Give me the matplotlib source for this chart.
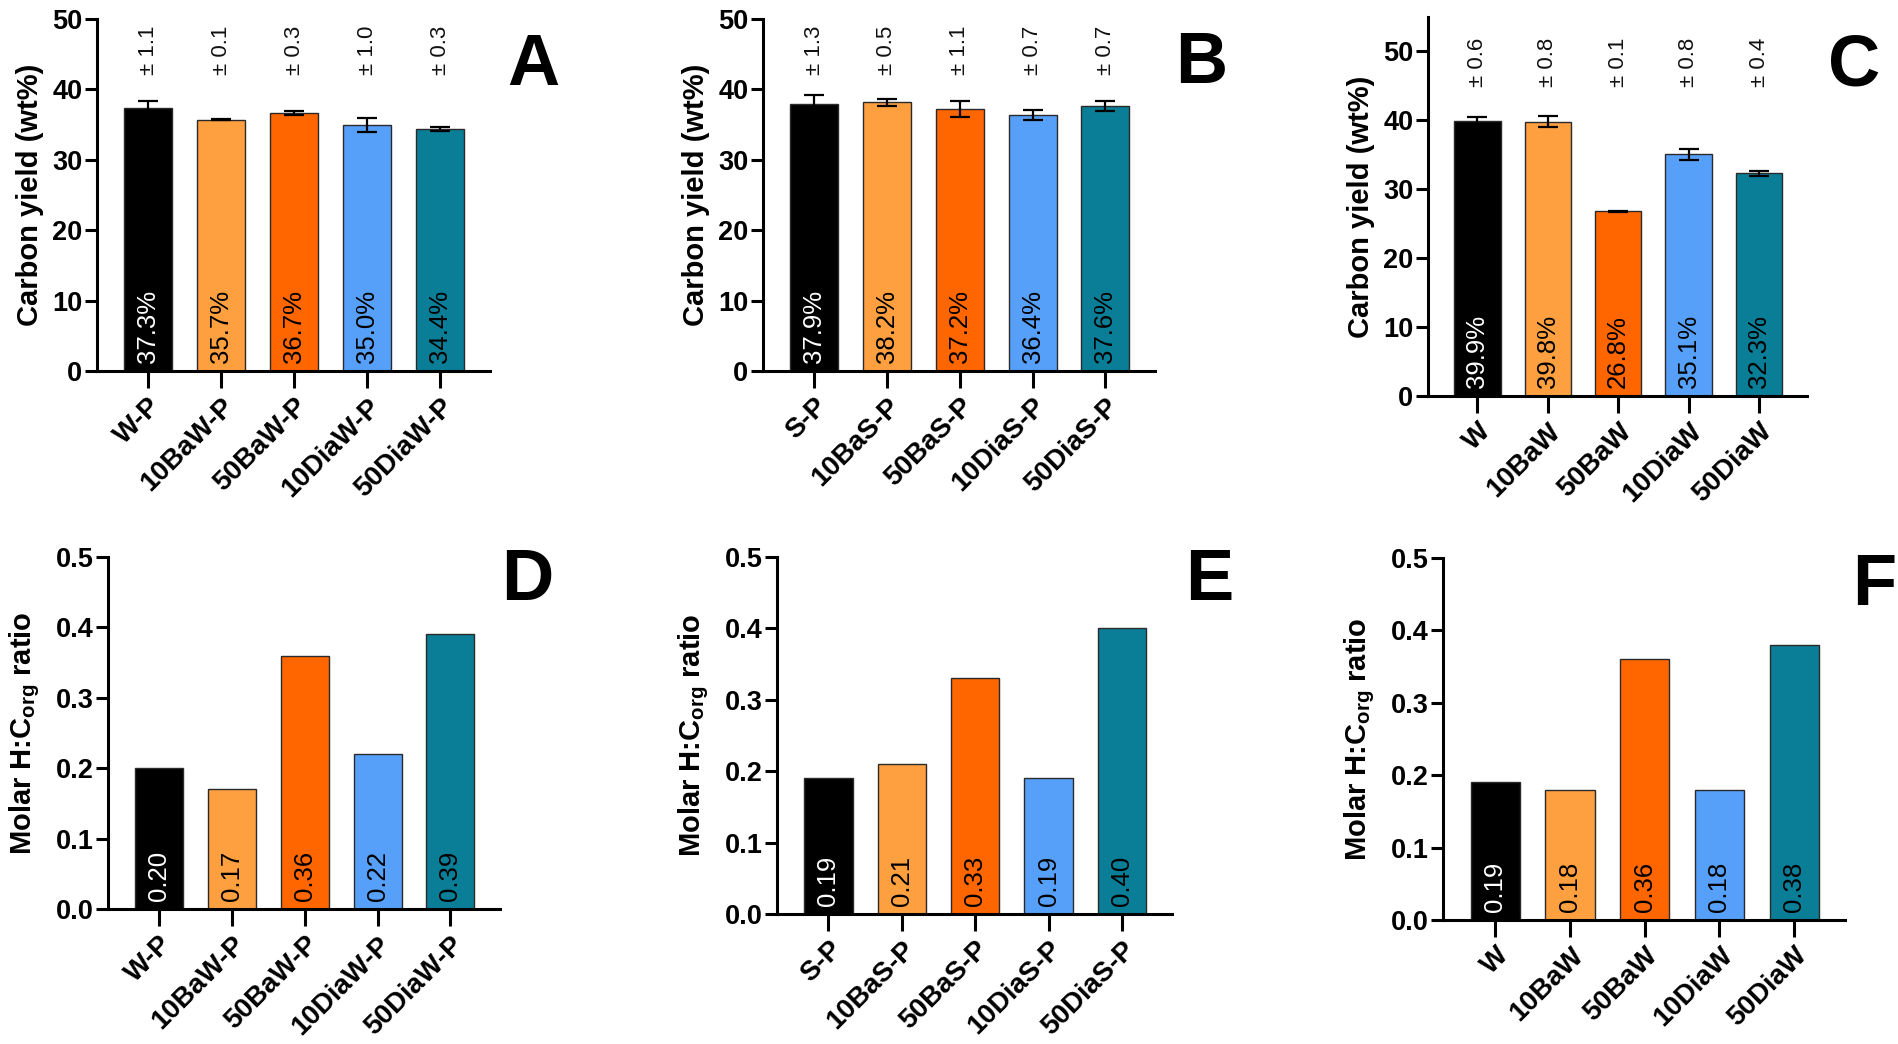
import matplotlib
matplotlib.use('Agg')
import matplotlib.pyplot as plt
import numpy as np
from matplotlib.ticker import FormatStrFormatter

plt.rcParams['font.family'] = ['Liberation Sans', 'DejaVu Sans']
plt.rcParams['mathtext.fontset'] = 'custom'
plt.rcParams['mathtext.rm'] = 'Liberation Sans'
plt.rcParams['mathtext.bf'] = 'Liberation Sans:bold'
plt.rcParams['mathtext.it'] = 'Liberation Sans:italic'

# ---------------- data ----------------
cats_A = ['W-P', '10BaW-P', '50BaW-P', '10DiaW-P', '50DiaW-P']
cats_B = ['S-P', '10BaS-P', '50BaS-P', '10DiaS-P', '50DiaS-P']
cats_C = ['W', '10BaW', '50BaW', '10DiaW', '50DiaW']

yield_A = [37.3, 35.7, 36.7, 35.0, 34.4]
err_A = [1.1, 0.1, 0.3, 1.0, 0.3]
yield_B = [37.9, 38.2, 37.2, 36.4, 37.6]
err_B = [1.3, 0.5, 1.1, 0.7, 0.7]
yield_C = [39.9, 39.8, 26.8, 35.1, 32.3]
err_C = [0.6, 0.8, 0.1, 0.8, 0.4]

hc_D = [0.20, 0.17, 0.36, 0.22, 0.39]
hc_E = [0.19, 0.21, 0.33, 0.19, 0.40]
hc_F = [0.19, 0.18, 0.36, 0.18, 0.38]

bar_colors = ['#000000', '#FFA040', '#FF6600', '#57A0F9', '#0A7D97']
text_colors = ['white', 'black', 'black', 'black', 'black']

W, H = 1898, 1044
fig = plt.figure(figsize=(W / 100, H / 100), dpi=100)


def pos(l, r, t, b):
    return [l / W, (H - b) / H, (r - l) / W, (b - t) / H]


def panel(rect, cats, vals, ylim, yticks, fmt, ylabel, yfmt, err=None, err_y=None, labelpad=6):
    ax = fig.add_axes(rect)
    x = np.arange(len(cats))
    ax.bar(x, vals, width=0.66, color=bar_colors, edgecolor='#2a2a2a', linewidth=1.0, zorder=2)
    if err is not None:
        ax.errorbar(x, vals, yerr=err, fmt='none', ecolor='black', elinewidth=1.6,
                    capsize=7, capthick=1.6, zorder=3)
        for i, e in enumerate(err):
            ax.text(i, err_y, '\u00b1 {:.1f}'.format(e), rotation=90, ha='center', va='bottom',
                    fontsize=16, color='#111111')
    for i, v in enumerate(vals):
        ax.annotate(fmt.format(v), (i, 0), xytext=(0, 6), textcoords='offset points',
                    rotation=90, ha='center', va='bottom', fontsize=18.5, color=text_colors[i], zorder=4)
    ax.set_xlim(-0.7, len(cats) - 1 + 0.68)
    ax.set_ylim(*ylim)
    ax.set_yticks(yticks)
    ax.yaxis.set_major_formatter(FormatStrFormatter(yfmt))
    ax.set_xticks(x)
    ax.set_xticklabels(cats, rotation=45, ha='right', va='top', rotation_mode='anchor',
                       fontsize=20, fontweight='bold')
    for s in ['top', 'right']:
        ax.spines[s].set_visible(False)
    for s in ['left', 'bottom']:
        ax.spines[s].set_linewidth(2.2)
    ax.tick_params(axis='y', length=8.6, width=2.2, labelsize=19.5, pad=2)
    ax.tick_params(axis='x', length=12, width=2.2, pad=4)
    for lab in ax.get_yticklabels():
        lab.set_fontweight('bold')
    ax.set_ylabel(ylabel, fontsize=21, fontweight='bold', labelpad=labelpad)
    return ax


ylab_top = 'Carbon yield (wt%)'
ylab_bot = r'Molar H:C$_{\mathbf{org}}$ ratio'

panel(pos(97, 490, 19, 371), cats_A, yield_A, (0, 50), [0, 10, 20, 30, 40, 50], '{:.1f}%', ylab_top, '%d',
      err=err_A, err_y=42)
panel(pos(763, 1155, 19, 371), cats_B, yield_B, (0, 50), [0, 10, 20, 30, 40, 50], '{:.1f}%', ylab_top, '%d',
      err=err_B, err_y=42)
panel(pos(1428, 1807, 17, 396), cats_C, yield_C, (0, 55), [0, 10, 20, 30, 40, 50], '{:.1f}%', ylab_top, '%d',
      err=err_C, err_y=44.8)

yt = [0.0, 0.1, 0.2, 0.3, 0.4, 0.5]
panel(pos(108, 500, 557, 909), cats_A, hc_D, (0, 0.5), yt, '{:.2f}', ylab_bot, '%.1f', labelpad=10)
panel(pos(777, 1172, 557, 914), cats_B, hc_E, (0, 0.5), yt, '{:.2f}', ylab_bot, '%.1f', labelpad=10)
panel(pos(1443, 1845, 558, 920), cats_C, hc_F, (0, 0.5), yt, '{:.2f}', ylab_bot, '%.1f', labelpad=10)

letters = [('A', 507, 85), ('B', 1175, 83), ('C', 1828, 85),
           ('D', 501, 600), ('E', 1185, 600), ('F', 1852, 605)]
for t, lx, ly in letters:
    fig.text(lx / W, (H - ly) / H, t, fontsize=52, fontweight='bold', ha='left', va='baseline')

fig.savefig('out.png', dpi=100, facecolor='white')
